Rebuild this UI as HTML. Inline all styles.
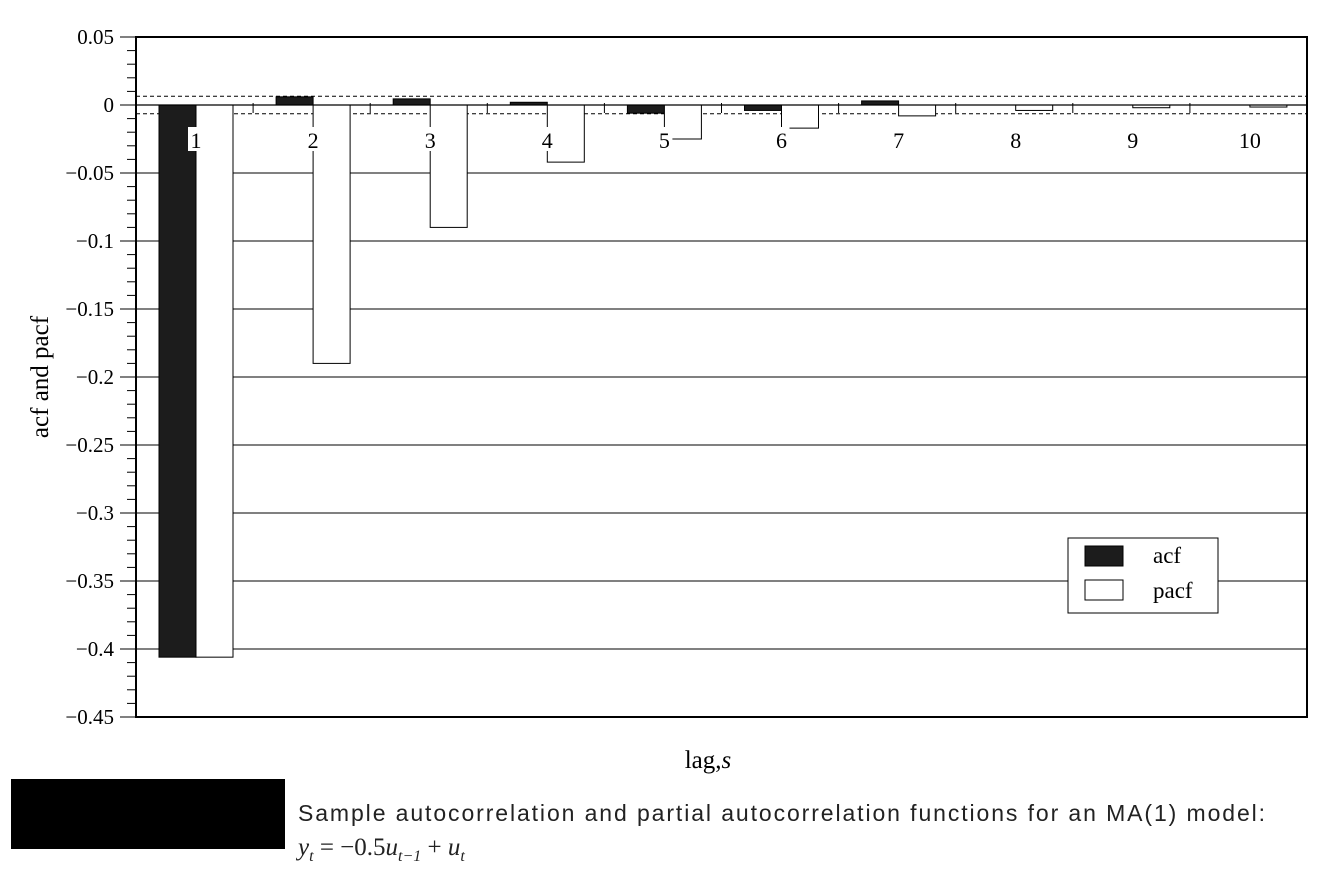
<!DOCTYPE html>
<html><head><meta charset="utf-8"><style>
body{margin:0;background:#fff;width:1332px;height:882px;overflow:hidden;font-family:"Liberation Serif",serif}
.cap{position:absolute;left:298px;top:800px;font-family:"Liberation Sans",sans-serif;font-size:23px;letter-spacing:1.9px;color:#222;white-space:nowrap}
.eq{position:absolute;left:298px;top:834px;font-size:25px;font-style:italic;color:#222;white-space:nowrap}
</style></head><body>
<svg id="chart" width="1332" height="882" style="position:absolute;left:0;top:0"></svg>
<div style="position:absolute;left:11px;top:779px;width:274px;height:70px;background:#000"></div>
<div class="cap">Sample autocorrelation and partial autocorrelation functions for an MA(1) model:</div>
<div class="eq">y<sub style="font-size:16px">t</sub> <span style="font-style:normal">= −0.5</span>u<sub style="font-size:16px">t−1</sub> <span style="font-style:normal">+</span> u<sub style="font-size:16px">t</sub></div>
<script>
const lags=[1,2,3,4,5,6,7,8,9,10];
const acf=[-0.406,0.006,0.0045,0.002,-0.006,-0.004,0.003,0,0,0];
const pacf=[-0.406,-0.19,-0.09,-0.042,-0.025,-0.017,-0.008,-0.004,-0.002,-0.0015];
const yTicks=[0.05,0,-0.05,-0.1,-0.15,-0.2,-0.25,-0.3,-0.35,-0.4,-0.45];
const bound=0.0064;
const NS="http://www.w3.org/2000/svg";
const svg=document.getElementById('chart');
const L=136,R=1307,T=37,B=717,ymax=0.05,ymin=-0.45;
const y=v=>T+(ymax-v)/(ymax-ymin)*(B-T);
const gw=(R-L)/lags.length;
const x=i=>L+gw*i;
function el(t,a,p){const e=document.createElementNS(NS,t);for(const k in a)e.setAttribute(k,a[k]);(p||svg).appendChild(e);return e;}
yTicks.forEach(v=>{if(v<0.05&&v>-0.45&&v!==0){const g=el('line',{x1:L,x2:R,y1:y(v),y2:y(v),stroke:'#000','stroke-width':1});

}});
yTicks.forEach(v=>{const t=el('text',{x:114,y:y(v)+7,'text-anchor':'end','font-size':21,'font-family':'Liberation Serif'});
t.textContent=v===0?'0':(v<0?'−':'')+String(Math.abs(v));


el('line',{x1:L-16,x2:L,y1:y(v),y2:y(v),stroke:'#000'});});
for(let v=0.05;v>-0.45;v-=0.01){el('line',{x1:L-9,x2:L,y1:y(v),y2:y(v),stroke:'#000'});}
[bound,-bound].forEach(b=>{const d=el('line',{x1:L,x2:R,y1:y(b),y2:y(b),stroke:'#000','stroke-dasharray':'4,3'});

});
const bw=37;
lags.forEach((l,i)=>{const cx=x(i)+60;
const a=acf[i],p=pacf[i];
if(a!==0){const r=el('rect',{x:cx-bw,y:Math.min(y(a),y(0)),width:bw,height:Math.abs(y(a)-y(0)),fill:'#1c1c1c',stroke:'#000'});

}
const r2=el('rect',{x:cx,y:Math.min(y(p),y(0)),width:bw,height:Math.abs(y(p)-y(0)),fill:'#fff',stroke:'#000'});


el('rect',{x:cx-8,y:127,width:16,height:24,fill:'#fff'});
const t=el('text',{x:cx,y:148,'text-anchor':'middle','font-size':22,'font-family':'Liberation Serif'});
t.textContent=l;


if(i>0)el('line',{x1:x(i),x2:x(i),y1:y(0)-2,y2:y(0)+8,stroke:'#000'});});
el('line',{x1:L,x2:R,y1:y(0),y2:y(0),stroke:'#000','stroke-width':1.2});
el('rect',{x:L,y:T,width:R-L,height:B-T,fill:'none',stroke:'#000','stroke-width':2});
const yt=el('text',{x:48,y:377,'text-anchor':'middle','font-size':25,transform:'rotate(-90 48 377)','font-family':'Liberation Serif'});
yt.textContent='acf and pacf';


const xt=el('text',{x:708,y:768,'text-anchor':'middle','font-size':25,'font-family':'Liberation Serif'});
xt.innerHTML='lag,<tspan font-style="italic">s</tspan>';


const lg=el('g',{});


el('rect',{x:1068,y:538,width:150,height:75,fill:'#fff',stroke:'#000'},lg);
el('rect',{x:1085,y:546,width:38,height:20,fill:'#1c1c1c',stroke:'#000'},lg);
el('rect',{x:1085,y:580,width:38,height:20,fill:'#fff',stroke:'#000'},lg);
const l1=el('text',{x:1153,y:563,'font-size':23,'font-family':'Liberation Serif'},lg);l1.textContent='acf';


const l2=el('text',{x:1153,y:598,'font-size':23,'font-family':'Liberation Serif'},lg);l2.textContent='pacf';


</script>
</body></html>
